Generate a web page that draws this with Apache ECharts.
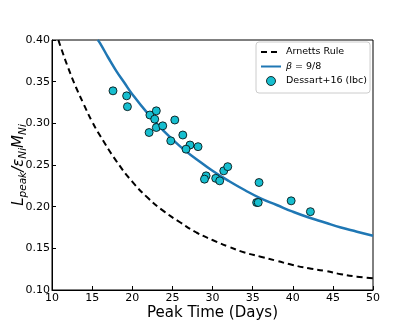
<!DOCTYPE html>
<html>
<head>
<meta charset="utf-8">
<script src="https://cdn.jsdelivr.net/npm/echarts@6/dist/echarts.min.js"></script>
<style>html,body{margin:0;padding:0;background:#fff;}#c{width:415px;height:332px;}</style>
</head>
<body>
<div id="c"></div>
<script>
// Dessart+16 (Ibc) points
const peakTime = [17.6, 19.3, 19.4, 22.2, 23.0, 22.8, 22.1, 23.0, 23.8, 25.3, 24.8, 26.3, 27.2, 26.7, 28.2, 29.2, 29.0, 30.4, 30.9, 31.4, 31.9, 35.8, 35.5, 35.7, 39.8, 42.2];
const lpeak    = [0.339, 0.333, 0.320, 0.310, 0.315, 0.305, 0.289, 0.295, 0.297, 0.304, 0.279, 0.286, 0.274, 0.269, 0.272, 0.237, 0.233, 0.234, 0.231, 0.243, 0.248, 0.229, 0.205, 0.205, 0.207, 0.194];

// Arnett's rule curve
const arnettT = [10.8, 11, 12, 13, 14, 15, 16, 18, 20, 22, 24, 26, 28, 30, 32, 34, 36, 38, 40, 42, 44, 46, 48, 50];
const arnettL = [0.400, 0.394, 0.367, 0.343, 0.322, 0.302, 0.285, 0.255, 0.230, 0.210, 0.194, 0.181, 0.169, 0.160, 0.152, 0.145, 0.140, 0.135, 0.130, 0.126, 0.123, 0.119, 0.116, 0.114];

// beta = 9/8 curve
const betaT = [15.7, 16, 17, 18, 19, 20, 22, 24, 26, 28, 30, 32, 34, 36, 38, 40, 42, 44, 46, 48, 50];
const betaL = [0.400, 0.396, 0.379, 0.363, 0.349, 0.335, 0.311, 0.290, 0.272, 0.257, 0.243, 0.231, 0.220, 0.210, 0.202, 0.194, 0.187, 0.181, 0.175, 0.170, 0.165];

const xTicks = [10, 15, 20, 25, 30, 35, 40, 45, 50];
const yTicks = [0.10, 0.15, 0.20, 0.25, 0.30, 0.35, 0.40];

const names = ['Arnetts Rule', 'β = 9/8', 'Dessart+16 (Ibc)'];

const zip = (a, b) => a.map((v, i) => [v, b[i]]);
const font = 'DejaVu Sans';
const hidden = {color: 'rgba(0,0,0,0)', borderColor: 'rgba(0,0,0,0)', borderWidth: 0, opacity: 0};

const chart = echarts.init(document.getElementById('c'), null, {renderer: 'canvas'});
chart.setOption({
  animation: false,
  backgroundColor: '#fff',
  textStyle: {fontFamily: font, color: '#000'},
  grid: {left: 52, right: 42, top: 40, bottom: 42, containLabel: false, outerBoundsMode: 'none',
    show: true, borderColor: '#000', borderWidth: 1, backgroundColor: 'transparent'},
  legend: {
    orient: 'vertical', left: 256, top: 42,
    padding: [5, 3, 7, 4], itemGap: 4.5, itemWidth: 20, itemHeight: 9,
    borderColor: '#cccccc', borderWidth: 1, borderRadius: 3, backgroundColor: '#fff',
    textStyle: {fontFamily: font, fontSize: 9.5, color: '#000', rich: {i: {fontStyle: 'italic', fontFamily: font, fontSize: 9.5}}},
    formatter: n => n === names[1] ? '{i|β} = 9/8' : n,
    data: [
      {name: names[0], itemStyle: hidden},
      {name: names[1], itemStyle: hidden},
      {name: names[2], icon: 'circle', itemStyle: {color: '#17becf', borderColor: '#000', borderWidth: 0.8}}
    ]
  },
  xAxis: {
    type: 'value', min: xTicks[0], max: xTicks[xTicks.length - 1], interval: 5,
    name: 'Peak Time (Days)', nameLocation: 'middle', nameGap: 16, nameMoveOverlap: false,
    nameTextStyle: {fontFamily: font, fontSize: 15, color: '#000'},
    axisLine: {show: true, lineStyle: {color: '#000', width: 1}},
    axisTick: {show: true, inside: true, length: 4, lineStyle: {color: '#000'}},
    axisLabel: {fontFamily: font, fontSize: 11, color: '#000', margin: 3},
    splitLine: {show: false}
  },
  yAxis: {
    type: 'value', min: yTicks[0], max: yTicks[yTicks.length - 1], interval: 0.05,
    name: '{i|L}{s|peak}{i|/ε}{s|Ni}{i|M}{s|Ni}', nameLocation: 'middle', nameGap: 23, nameRotate: 90, nameMoveOverlap: false,
    nameTextStyle: {
      fontFamily: font, color: '#000',
      rich: {
        i: {fontStyle: 'italic', fontFamily: font, fontSize: 15, color: '#000', verticalAlign: 'top', lineHeight: 17},
        s: {fontStyle: 'italic', fontFamily: font, fontSize: 10.5, color: '#000', verticalAlign: 'bottom', lineHeight: 10}
      }
    },
    axisLine: {show: true, lineStyle: {color: '#000', width: 1}},
    axisTick: {show: true, inside: true, length: 4, lineStyle: {color: '#000'}},
    axisLabel: {fontFamily: font, fontSize: 11, color: '#000', margin: 2, formatter: v => v.toFixed(2)},
    splitLine: {show: false}
  },
  series: [
    {
      name: names[0], type: 'line', data: zip(arnettT, arnettL), smooth: true, symbol: 'none', showSymbol: false,
      lineStyle: {color: '#000', width: 2, type: [6, 4]}, itemStyle: {color: '#000'}, z: 2
    },
    {
      name: names[1], type: 'line', data: zip(betaT, betaL), smooth: true, symbol: 'none', showSymbol: false,
      lineStyle: {color: '#1f77b4', width: 2.5}, itemStyle: {color: '#1f77b4'}, z: 3
    },
    {
      name: names[2], type: 'scatter', data: zip(peakTime, lpeak), symbol: 'circle', symbolSize: 8,
      itemStyle: {color: '#17becf', borderColor: '#000', borderWidth: 0.8, opacity: 1}, z: 4
    }
  ]
});
</script>
</body>
</html>
